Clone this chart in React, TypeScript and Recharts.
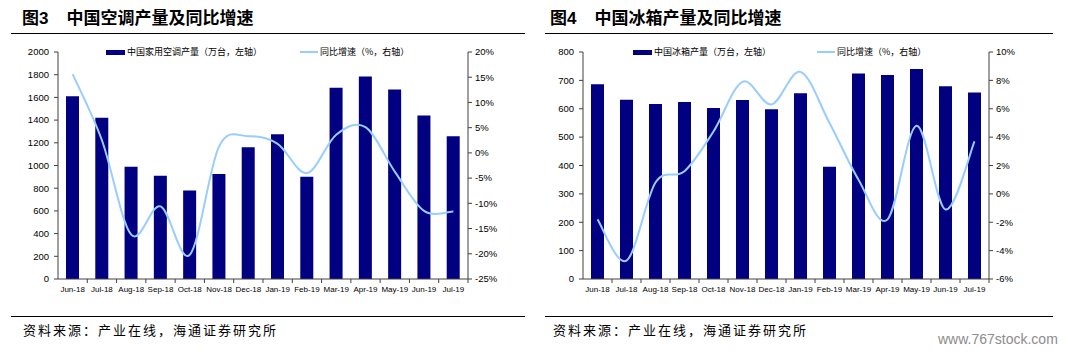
import React from 'react';
import { ComposedChart, Bar, Line, XAxis, YAxis } from 'recharts';

const months = ['Jun-18','Jul-18','Aug-18','Sep-18','Oct-18','Nov-18','Dec-18','Jan-19','Feb-19','Mar-19','Apr-19','May-19','Jun-19','Jul-19'];
const acOutput = [1610,1420,990,910,780,925,1160,1275,900,1685,1785,1670,1440,1258];
const acGrowth = [15.6,2.5,-16.2,-10.6,-20.2,1.3,3.3,1.8,-4.0,3.6,5.1,-3.7,-11.5,-11.6];
const fridgeOutput = [686,632,617,624,603,631,598,655,396,724,719,740,679,657];
const fridgeGrowth = [-1.8,-4.7,0.8,1.6,4.4,7.9,6.3,8.6,5.0,1.0,-1.8,4.8,-1.1,3.7];

const acLeftTicks = [0,200,400,600,800,1000,1200,1400,1600,1800,2000];
const acRightTicks = [-25,-20,-15,-10,-5,0,5,10,15,20];
const frLeftTicks = [0,100,200,300,400,500,600,700,800];
const frRightTicks = [-6,-4,-2,0,2,4,6,8,10];

const acTitle = '中国空调产量及同比增速';
const frTitle = '中国冰箱产量及同比增速';
const acBarName = '中国家用空调产量（万台，左轴）';
const frBarName = '中国冰箱产量（万台，左轴）';
const lineName = '同比增速（%，右轴）';
const sourceText = '资料来源：产业在线，海通证券研究所';
const watermark = 'www.767stock.com';

const acData = months.map((m, i) => ({ m, v: acOutput[i], g: acGrowth[i] }));
const frData = months.map((m, i) => ({ m, v: fridgeOutput[i], g: fridgeGrowth[i] }));

const NAVY = '#000080';
const LIGHT = '#99CCFF';
const AXIS = '#404040';
const CJK = '"Noto Sans CJK SC", sans-serif';
const LAT = '"Liberation Sans", Arial, sans-serif';

function smoothCurve(context: any) {
  let pts: number[][] = [];
  return {
    areaStart() {},
    areaEnd() {},
    lineStart() { pts = []; },
    point(x: number, y: number) { pts.push([+x, +y]); },
    lineEnd() {
      const n = pts.length;
      if (!n) return;
      context.moveTo(pts[0][0], pts[0][1]);
      for (let i = 0; i < n - 1; i++) {
        const p0 = pts[i - 1] || pts[i];
        const p1 = pts[i];
        const p2 = pts[i + 1];
        const p3 = pts[i + 2] || p2;
        context.bezierCurveTo(
          p1[0] + (p2[0] - p0[0]) / 6, p1[1] + (p2[1] - p0[1]) / 6,
          p2[0] - (p3[0] - p1[0]) / 6, p2[1] - (p3[1] - p1[1]) / 6,
          p2[0], p2[1]
        );
      }
    },
  };
}

function makeXTick(half: number) {
  return (props: any) => {
    const { x, y, payload } = props;
    const axisY = y - 7;
    return (
      <g>
        <line x1={x + half} x2={x + half} y1={axisY} y2={axisY + 4} stroke={AXIS} strokeWidth={1} />
        <text x={x} y={y} dy="0.71em" textAnchor="middle" fontSize={8} fontFamily={LAT} fill="#000">
          {payload.value}
        </text>
      </g>
    );
  };
}

type PanelProps = {
  data: any[];
  leftTicks: number[];
  rightTicks: number[];
  leftW: number;
  rightW: number;
  marginRight: number;
  width: number;
  half: number;
  barSize: number;
  leftMargin: number;
};

function Panel(p: PanelProps) {
  return (
    <ComposedChart
      width={p.width}
      height={270}
      data={p.data}
      margin={{ top: 12, right: p.marginRight, left: 0, bottom: 11 }}
    >
      <XAxis
        dataKey="m"
        height={20}
        tickLine={false}
        tickSize={4}
        tickMargin={3}
        interval={0}
        stroke={AXIS}
        tick={makeXTick(p.half)}
      />
      <YAxis
        yAxisId="left"
        orientation="left"
        width={p.leftW}
        domain={[p.leftTicks[0], p.leftTicks[p.leftTicks.length - 1]]}
        ticks={p.leftTicks}
        interval={0}
        tickSize={4}
        tickMargin={p.leftMargin}
        stroke={AXIS}
        tick={{ fontSize: 9.5, fontFamily: LAT, fill: '#000' }}
      />
      <YAxis
        yAxisId="right"
        orientation="right"
        width={p.rightW}
        domain={[p.rightTicks[0], p.rightTicks[p.rightTicks.length - 1]]}
        ticks={p.rightTicks}
        interval={0}
        tickSize={4}
        tickMargin={3}
        stroke={AXIS}
        tickFormatter={(v: number) => `${v}%`}
        tick={{ fontSize: 9.5, fontFamily: LAT, fill: '#000' }}
      />
      <Bar yAxisId="left" dataKey="v" fill={NAVY} barSize={p.barSize} isAnimationActive={false} />
      <Line
        yAxisId="right"
        dataKey="g"
        type={smoothCurve as any}
        stroke={LIGHT}
        strokeWidth={2}
        dot={false}
        activeDot={false}
        isAnimationActive={false}
      />
    </ComposedChart>
  );
}

function LegendItem({ kind, label, left, top }: { kind: 'bar' | 'line'; label: string; left: number; top: number }) {
  return (
    <div style={{ position: 'absolute', left, top, display: 'flex', alignItems: 'center', height: 12, whiteSpace: 'nowrap' }}>
      {kind === 'bar' ? (
        <div style={{ width: 19, height: 5, background: NAVY, marginRight: 2 }} />
      ) : (
        <div style={{ width: 18, height: 2, background: LIGHT, marginRight: 2 }} />
      )}
      <span style={{ fontFamily: CJK, fontSize: 9, color: '#000', lineHeight: '12px' }}>{label}</span>
    </div>
  );
}

function Title({ num, text, left }: { num: string; text: string; left: number }) {
  return (
    <div style={{ position: 'absolute', left, top: 6, height: 22, lineHeight: '22px', whiteSpace: 'nowrap', fontWeight: 700 }}>
      <span style={{ fontFamily: CJK, fontSize: 17 }}>图</span>
      <span style={{ fontFamily: LAT, fontSize: 17 }}>{num}</span>
      <span style={{ fontFamily: CJK, fontSize: 17, marginLeft: 18 }}>{text}</span>
    </div>
  );
}

export default function App() {
  const abs = (s: React.CSSProperties): React.CSSProperties => ({ position: 'absolute', ...s });
  const src: React.CSSProperties = { fontFamily: CJK, fontSize: 13, letterSpacing: 2, lineHeight: '18px', whiteSpace: 'nowrap', color: '#000' };
  return (
    <div style={{ position: 'absolute', left: 0, top: 0, width: 1077, height: 354, background: '#fff', overflow: 'hidden' }}>
      <Title num="3" text={acTitle} left={22} />
      <Title num="4" text={frTitle} left={550} />
      <div style={abs({ left: 11, top: 33, width: 514, height: 1, background: '#000' })} />
      <div style={abs({ left: 545, top: 33, width: 508, height: 1, background: '#000' })} />

      <div style={abs({ left: 0, top: 40 })}>
        <Panel data={acData} leftTicks={acLeftTicks} rightTicks={acRightTicks} leftW={58} rightW={50} marginRight={22} width={540} half={14.64} barSize={13} leftMargin={5} />
      </div>
      <div style={abs({ left: 540, top: 40 })}>
        <Panel data={frData} leftTicks={frLeftTicks} rightTicks={frRightTicks} leftW={43} rightW={50} marginRight={38} width={537} half={14.5} barSize={13} leftMargin={5} />
      </div>

      <LegendItem kind="bar" label={acBarName} left={106} top={46} />
      <LegendItem kind="line" label={lineName} left={300} top={46} />
      <LegendItem kind="bar" label={frBarName} left={633} top={46} />
      <LegendItem kind="line" label={lineName} left={817} top={46} />

      <div style={abs({ left: 11, top: 316, width: 514, height: 1, background: '#000' })} />
      <div style={abs({ left: 545, top: 316, width: 508, height: 1, background: '#000' })} />
      <div style={abs({ left: 23, top: 321, ...src })}>{sourceText}</div>
      <div style={abs({ left: 553, top: 321, ...src })}>{sourceText}</div>
      <div style={abs({ left: 938, top: 330, fontFamily: LAT, fontSize: 14, lineHeight: '18px', whiteSpace: 'nowrap', color: '#8c8c8c' })}>
        {watermark}
      </div>
    </div>
  );
}
